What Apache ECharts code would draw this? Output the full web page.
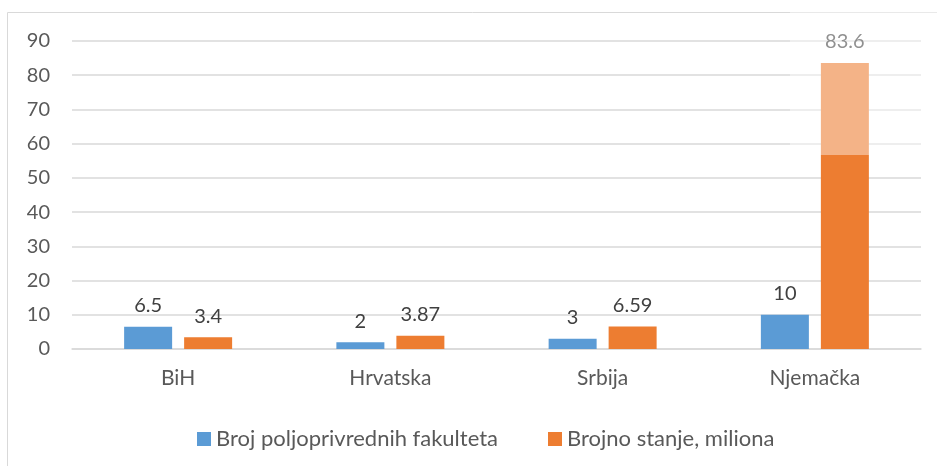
<!DOCTYPE html>
<html>
<head>
<meta charset="utf-8">
<script src="https://cdn.jsdelivr.net/npm/echarts@6/dist/echarts.min.js"></script>
<style>
  html, body { margin: 0; padding: 0; background: #fff; }
  #chart { width: 937px; height: 466px; }
</style>
</head>
<body>
<div id="chart"></div>
<script>
// categories and values
var categories = ["BiH", "Hrvatska", "Srbija", "Njemačka"];
var fakulteti = [6.5, 2, 3, 10];
var stanovnici = [3.4, 3.87, 6.59, 83.6];
var seriesNames = ["Broj poljoprivrednih fakulteta", "Brojno stanje, miliona"];

var chart = echarts.init(document.getElementById("chart"));
var font = "Lato, 'Open Sans', sans-serif";

chart.setOption({
  animation: false,
  textStyle: { fontFamily: font },
  graphic: [
    {
      type: "rect",
      shape: { x: 7.5, y: 12.5, width: 960, height: 480 },
      style: { fill: "none", stroke: "#d9d9d9", lineWidth: 1 },
      z: -1
    },
    {
      // light wash from the watermark in the top-right corner
      type: "rect",
      shape: { x: 790, y: 0, width: 147, height: 155 },
      style: { fill: "rgba(255,255,255,0.42)" },
      z: 100
    }
  ],
  grid: { left: 72, right: 16, top: 41, bottom: 117 },
  legend: {
    data: seriesNames,
    top: 423,
    left: 192,
    itemWidth: 14,
    itemHeight: 14,
    itemGap: 50,
    icon: "rect",
    textStyle: { fontSize: 22, color: "#595959", fontFamily: font }
  },
  xAxis: {
    type: "category",
    data: categories,
    axisLine: { lineStyle: { color: "#d9d9d9", width: 1.5 } },
    axisTick: { show: false },
    axisLabel: { fontSize: 21, color: "#595959", margin: 19, fontFamily: font }
  },
  yAxis: {
    type: "value",
    min: 0,
    max: 90,
    interval: 10,
    axisLine: { show: false },
    axisTick: { show: false },
    axisLabel: { fontSize: 20, color: "#595959", margin: 22, fontFamily: font },
    splitLine: { lineStyle: { color: "#d9d9d9", width: 1.5 } }
  },
  series: [
    {
      name: seriesNames[0],
      type: "bar",
      data: fakulteti,
      barWidth: 48,
      barGap: "25%",
      itemStyle: { color: "#5b9bd5" },
      label: { show: true, position: "top", distance: 11, fontSize: 20, color: "#404040", fontFamily: font }
    },
    {
      name: seriesNames[1],
      type: "bar",
      data: stanovnici,
      barWidth: 48,
      itemStyle: { color: "#ed7d31" },
      label: { show: true, position: "top", distance: 11, fontSize: 20, color: "#404040", fontFamily: font }
    }
  ]
});
</script>
</body>
</html>
